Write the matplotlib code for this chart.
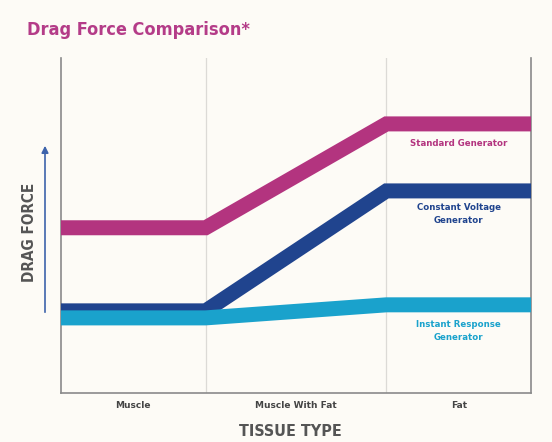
import numpy as np
import matplotlib.pyplot as plt
from matplotlib.patches import FancyArrowPatch

# tissue categories and relative width of each zone on the x axis
tissues = ['Muscle', 'Muscle With Fat', 'Fat']
zone_widths = [1.0, 1.25, 1.0]

# drag force (arbitrary units) at each zone boundary
standard = [4.93, 4.93, 8.03, 8.03]
constant_voltage = [2.45, 2.45, 6.03, 6.03]
instant_response = [2.24, 2.24, 2.63, 2.63]

series = [
    ('Standard\u00a0Generator', standard, '#b3347f', 7.45),
    ('Constant Voltage\nGenerator', constant_voltage, '#20448e', 5.35),
    ('Instant Response\nGenerator', instant_response, '#1aa2cc', 1.85),
]

bg = '#fdfbf6'
edges = np.concatenate([[0], np.cumsum(zone_widths)])
centers = (edges[:-1] + edges[1:]) / 2

fig = plt.figure(figsize=(5.52, 4.42), dpi=100, facecolor=bg)
ax = fig.add_axes([0.1105, 0.111, 0.8515, 0.758])
ax.set_facecolor(bg)

for name, vals, color, ty in series:
    ax.plot(edges, vals, color=color, lw=10.8, solid_joinstyle='miter',
            solid_capstyle='butt', zorder=3)
    ax.text(centers[-1], ty, name, color=color, ha='center', va='center',
            fontsize=6.2, fontweight='bold', linespacing=1.6)

for x in edges[1:-1]:
    ax.axvline(x, color='#dcdad6', lw=0.9, zorder=1)

ax.set_xlim(edges[0], edges[-1])
ax.set_ylim(0, 10)
ax.set_yticks([])
ax.set_xticks(centers)
ax.set_xticklabels(tissues, fontsize=6.5, fontweight='bold', color='#444444')
ax.tick_params(axis='x', length=0, pad=6)

for side in ['left', 'bottom', 'right']:
    ax.spines[side].set_color('#8a8a8a')
    ax.spines[side].set_linewidth(1.2)
ax.spines['top'].set_visible(False)

ax.set_xlabel('TISSUE TYPE', fontsize=11.5, fontweight='bold', color='#555555',
              fontstretch='condensed')
ax.xaxis.set_label_coords(0.487, -0.093)

# arrow and label standing in for the y axis
fig.add_artist(FancyArrowPatch((45 / 552, 1 - 315 / 442), (45 / 552, 1 - 143 / 442),
                               transform=fig.transFigure, arrowstyle='-|>',
                               mutation_scale=10, color='#3d63ab', lw=1.2))
fig.text(30 / 552, 1 - 232 / 442, 'DRAG FORCE', rotation=90, ha='center', va='center',
         fontsize=11, fontweight='bold', color='#555555', fontstretch='condensed')

fig.text(27 / 552, 1 - 30 / 442, 'Drag Force Comparison*', ha='left', va='center',
         fontsize=13, fontweight='bold', color='#b43c88', fontstretch='condensed')

fig.savefig('out.png', dpi=100, facecolor=bg)
plt.close(fig)
